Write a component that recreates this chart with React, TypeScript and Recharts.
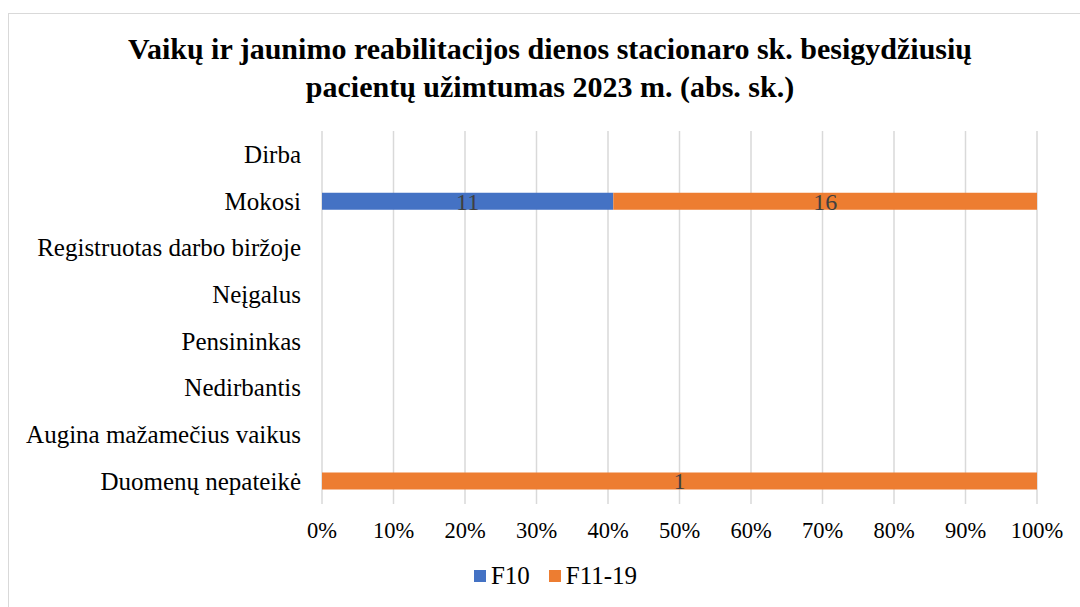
import { BarChart, Bar, XAxis, YAxis, CartesianGrid, Legend, LabelList } from 'recharts';

const categories = [
  'Dirba',
  'Mokosi',
  'Registruotas darbo biržoje',
  'Neįgalus',
  'Pensininkas',
  'Nedirbantis',
  'Augina mažamečius vaikus',
  'Duomenų nepateikė',
];
const f10 = [0, 11, 0, 0, 0, 0, 0, 0];
const f1119 = [0, 16, 0, 0, 0, 0, 0, 1];
const pctTicks = [0, 0.1, 0.2, 0.3, 0.4, 0.5, 0.6, 0.7, 0.8, 0.9, 1];

const data = categories.map((name, i) => ({ name, f10: f10[i], f1119: f1119[i] }));

const FONT = "'Liberation Serif', monospace";
const BLUE = '#4472C4';
const ORANGE = '#ED7D31';

const hideZero = (v: any) => (v ? v : '');

function LegendContent() {
  const items = [
    { label: 'F10', color: BLUE },
    { label: 'F11-19', color: ORANGE },
  ];
  return (
    <div style={{ display: 'flex', justifyContent: 'center', gap: 19, fontFamily: FONT, fontSize: 25, color: '#000', paddingLeft: 74 }}>
      {items.map((it) => (
        <div key={it.label} style={{ display: 'flex', alignItems: 'center' }}>
          <span style={{ width: 12, height: 12, background: it.color, marginRight: 5, display: 'inline-block' }} />
          {it.label}
        </div>
      ))}
    </div>
  );
}

export default function App() {
  return (
    <div style={{ position: 'absolute', left: 0, top: 0, width: 1080, height: 607, background: '#fff', overflow: 'hidden', fontFamily: FONT }}>
      <div style={{ position: 'absolute', left: 8, top: 13, width: 1100, height: 620, border: '1.5px solid #d9d9d9' }} />
      <div
        style={{
          position: 'absolute',
          top: 30,
          left: 0,
          width: 1100,
          textAlign: 'center',
          fontFamily: FONT,
          fontWeight: 'bold',
          fontSize: 30,
          lineHeight: '38px',
          color: '#000',
        }}
      >
        Vaikų ir jaunimo reabilitacijos dienos stacionaro sk. besigydžiusių
        <br />
        pacientų užimtumas 2023 m. (abs. sk.)
      </div>
      <div style={{ position: 'absolute', left: 0, top: 0 }}>
        <BarChart
          width={1080}
          height={607}
          data={data}
          layout="vertical"
          stackOffset="expand"
          barCategoryGap="10%"
          margin={{ top: 131, right: 43, bottom: 20, left: 0 }}
        >
          <CartesianGrid horizontal={false} stroke="#d9d9d9" strokeWidth={1.5} />
          <XAxis
            type="number"
            domain={[0, 1]}
            ticks={pctTicks}
            tickFormatter={(v) => `${Math.round(v * 100)}%`}
            axisLine={false}
            tickLine={false}
            tickMargin={12}
            height={40}
            tick={{ fill: '#000', fontSize: 22.5, fontFamily: FONT }}
          />
          <YAxis
            type="category"
            dataKey="name"
            width={322}
            axisLine={false}
            tickLine={false}
            tickMargin={15}
            tick={{ fill: '#000', fontSize: 25, fontFamily: FONT }}
          />
          <Legend verticalAlign="bottom" height={43} wrapperStyle={{ top: 562 }} content={<LegendContent />} />
          <Bar dataKey="f10" name="F10" stackId="a" fill={BLUE} barSize={17} isAnimationActive={false}>
            <LabelList dataKey="f10" position="center" formatter={hideZero} fill="#404040" fontSize={24} fontFamily={FONT} />
          </Bar>
          <Bar dataKey="f1119" name="F11-19" stackId="a" fill={ORANGE} barSize={17} isAnimationActive={false}>
            <LabelList dataKey="f1119" position="center" formatter={hideZero} fill="#404040" fontSize={24} fontFamily={FONT} />
          </Bar>
        </BarChart>
      </div>
    </div>
  );
}
